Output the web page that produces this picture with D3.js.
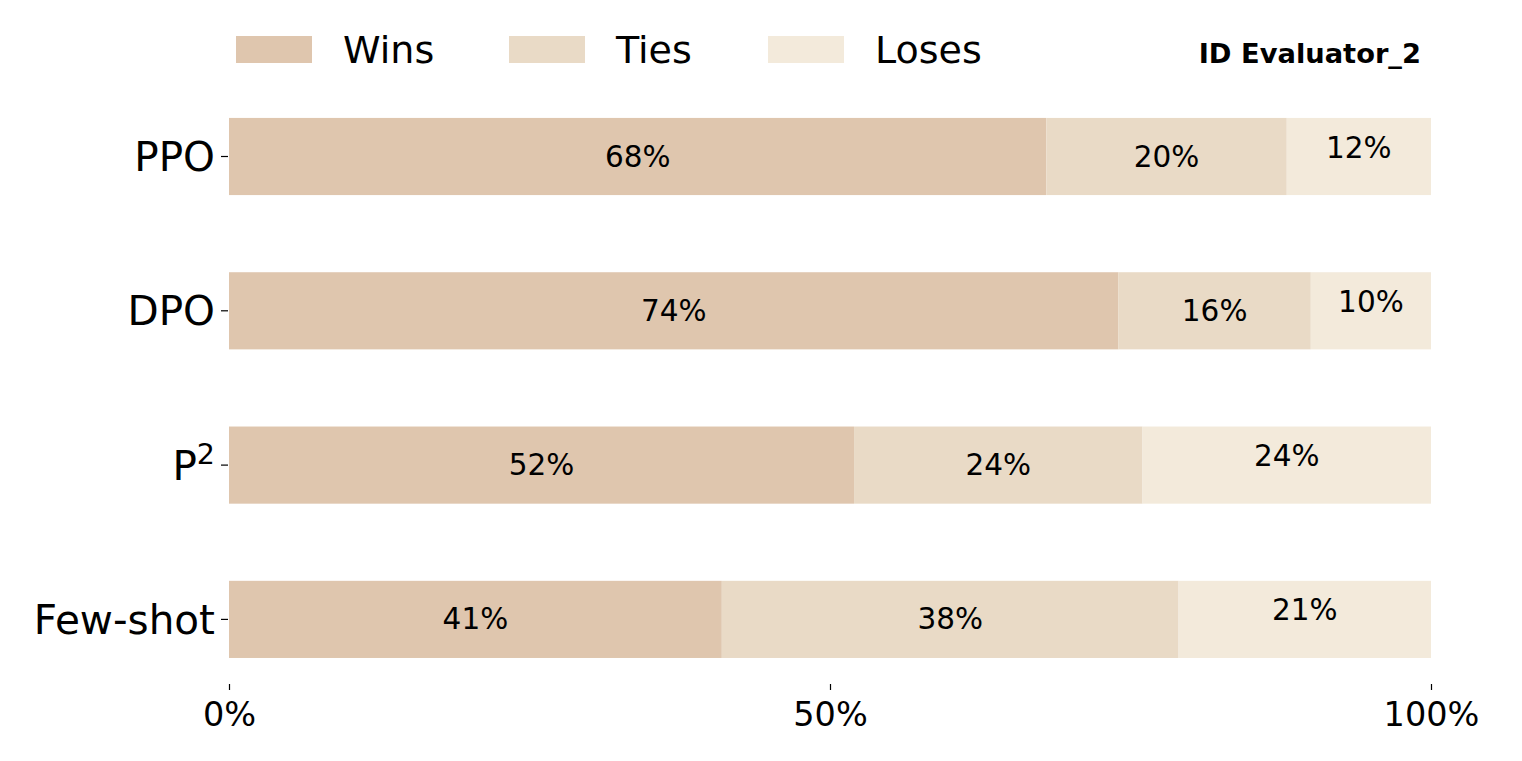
<!DOCTYPE html>
<html><head><meta charset="utf-8">
<script src="https://cdn.jsdelivr.net/npm/d3@7"></script>
<style>body{margin:0;background:#fff}svg{display:block;font-family:"DejaVu Sans",sans-serif}</style>
</head><body><svg id="c" width="1522" height="761"></svg>
<script>
const categories = ["PPO", "DPO", "P2", "Few-shot"];
const wins = [68, 74, 52, 41];
const ties = [20, 16, 24, 38];
const loses = [12, 10, 24, 21];
const seriesNames = ["Wins", "Ties", "Loses"];
const seriesColors = ["#dfc6ae", "#e9dac6", "#f3eadb"];
const xTicks = [0, 50, 100];
const title = "ID Evaluator_2";

const svg = d3.select("#c");
const x = d3.scaleLinear().domain([0, 100]).range([229, 1431]);
const y = d3.scaleBand().domain(categories).range([79.35, 696.55]).paddingInner(0.5).paddingOuter(0.25);
const color = d3.scaleOrdinal().domain(seriesNames).range(seriesColors);

const rows = categories.map((c, i) => ({cat: c, Wins: wins[i], Ties: ties[i], Loses: loses[i]}));
const stacked = d3.stack().keys(seriesNames)(rows);

const g = svg.append("g");
stacked.forEach(layer => {
  const lg = g.append("g");
  lg.selectAll("rect").data(layer).join("rect")
    .attr("x", d => x(d[0])).attr("width", d => x(d[1]) - x(d[0]))
    .attr("y", d => y(d.data.cat)).attr("height", y.bandwidth())
    .attr("fill", color(layer.key));
  lg.selectAll("text").data(layer).join("text")
    .attr("x", d => (x(d[0]) + x(d[1])) / 2)
    .attr("y", d => y(d.data.cat) + y.bandwidth() / 2 + (layer.key === "Loses" ? -9 : 0))
    .attr("text-anchor", "middle").attr("dominant-baseline", "central")
    .attr("font-size", 29.5).attr("fill", "#000")
    .text(d => (d[1] - d[0]) + "%");
});

// x axis
const xa = svg.append("g").attr("transform", "translate(0,684)")
  .call(d3.axisBottom(x).tickValues(xTicks).tickFormat(d => d + "%").tickSize(6).tickPadding(12));
xa.select(".domain").remove();
xa.selectAll("text").attr("font-size", 33.5).attr("font-family", "DejaVu Sans").attr("fill", "#000");
xa.selectAll("line").attr("stroke", "#000").attr("stroke-width", 1.2);

// y axis
const ya = svg.append("g").attr("transform", "translate(228,0)")
  .call(d3.axisLeft(y).tickSize(7).tickPadding(6).tickFormat(() => ""));
ya.select(".domain").remove();
ya.selectAll("line").attr("stroke", "#000").attr("stroke-width", 1.2);
ya.selectAll(".tick").each(function(d) {
  const t = d3.select(this).select("text")
    .attr("font-size", 40.5).attr("font-family", "DejaVu Sans").attr("fill", "#000")
    .attr("dy", "0.36em");
  if (d === "P2") {
    t.text("P");
    t.append("tspan").attr("font-size", 28.5).attr("dy", "-0.55em").text("2");
  } else t.text(d);
});

// legend
const legX = [236, 509, 768];
const leg = svg.append("g");
seriesNames.forEach((s, i) => {
  leg.append("rect").attr("x", legX[i]).attr("y", 36).attr("width", 76).attr("height", 27).attr("fill", color(s));
  leg.append("text").attr("x", legX[i] + 107).attr("y", 63).attr("font-size", 38).attr("fill", "#000").text(s);
});

svg.append("text").attr("x", 1421).attr("y", 63).attr("text-anchor", "end")
  .attr("font-size", 27.3).attr("font-weight", "bold").attr("fill", "#000").text(title);
</script></body></html>
